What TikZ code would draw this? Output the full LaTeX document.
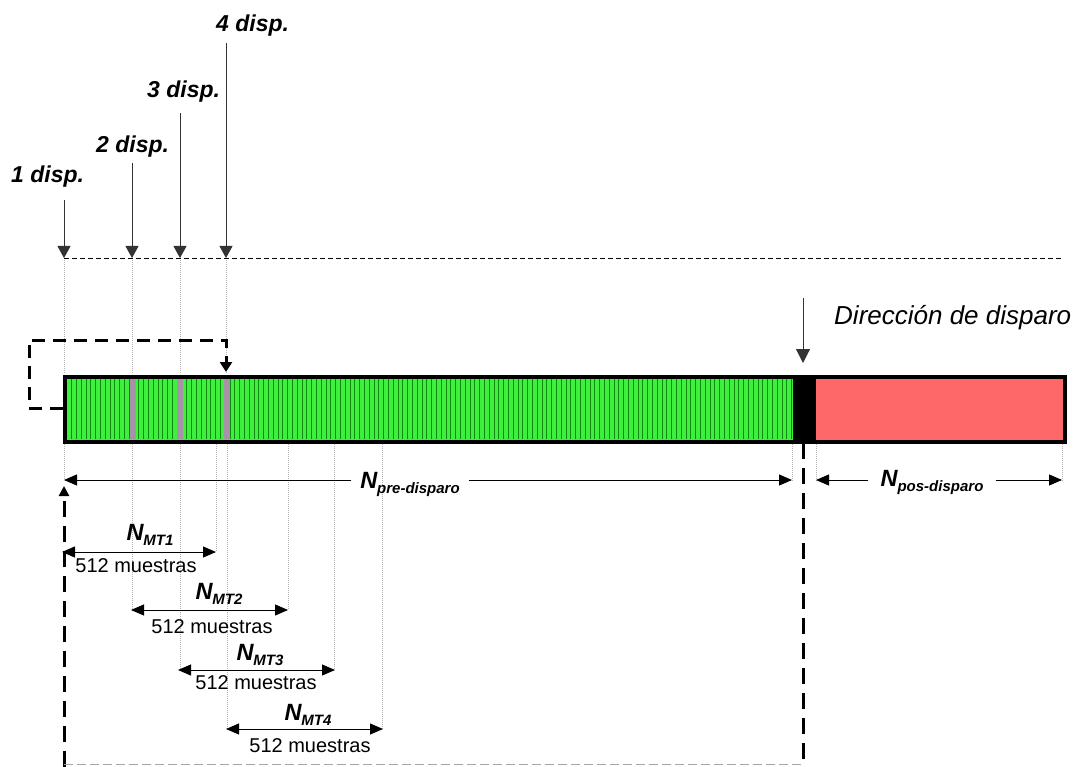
\documentclass[tikz,border=0pt]{standalone}
\usepackage{fontspec}
\setmainfont{Liberation Sans}
\usetikzlibrary{arrows.meta}
\definecolor{barGreen}{HTML}{3CF03C}
\definecolor{stripeGreen}{HTML}{108A10}
\definecolor{barRed}{HTML}{FF6868}
\definecolor{markGray}{HTML}{A892A8}
% bold italic N with a lowered subscript
\newcommand\Nlab[1]{{\fontsize{23.5}{26}\selectfont\bfseries\itshape N\raisebox{-5pt}{\fontsize{15}{17}\selectfont #1}}}

\begin{document}
\begin{tikzpicture}[x=1pt,y=-1pt,
  lbl/.style={inner sep=0pt, font=\fontsize{23}{26}\selectfont\bfseries\itshape},
  dirlbl/.style={inner sep=0pt, font=\fontsize{26}{29}\selectfont\itshape},
  nlbl/.style={inner sep=0pt},
  mlbl/.style={inner sep=0pt, font=\fontsize{20}{23}\selectfont},
  darr/.style={draw=black!80, line width=1pt, -{Triangle[length=12pt,width=13pt]}},
  dimtip/.style={line width=1pt, -{Triangle[length=13pt,width=11pt]}},
  dimboth/.style={line width=1pt, {Triangle[length=13pt,width=11pt]}-{Triangle[length=13pt,width=11pt]}},
  guide/.style={draw=gray!60, line width=0.6pt, dash pattern=on 1pt off 1pt},
  thickdash/.style={line width=3pt, dash pattern=on 16pt off 9pt},
]
\useasboundingbox (0,0) rectangle (1078,767);

% ---- trigger labels and their arrows
\node[lbl, anchor=base west] (d1) at (11,183) {1 disp.};
\node[lbl, anchor=base west] (d2) at (96,153) {2 disp.};
\node[lbl, anchor=base west] (d3) at (147,98) {3 disp.};
\node[lbl, anchor=base west] (d4) at (216,32) {4 disp.};
\coordinate (s1) at (64,200);  \coordinate (t1) at (64,258);
\coordinate (s2) at (132,163); \coordinate (t2) at (132,258);
\coordinate (s3) at (180,113); \coordinate (t3) at (180,258);
\coordinate (s4) at (226,43);  \coordinate (t4) at (226,258);
\coordinate (tEnd) at (1062,258);

% ---- guide lines
\foreach \c/\x in {t1/64,t2/132,t3/180,t4/226}
  \draw[guide] (\c) -- (\x,373);
\foreach \x/\y in {64/480,792/482,816/482,1062/482,132/610,180/670,216/552,227/729,288/610,334/670,382/729}
  \draw[guide] (\x,442) -- (\x,\y);

\draw[line width=0.8pt, dash pattern=on 5pt off 3pt] (t1) -- (tEnd);
\draw[darr] (s1) -- (t1);
\draw[darr] (s2) -- (t2);
\draw[darr] (s3) -- (t3);
\draw[darr] (s4) -- (t4);

% ---- sample buffer
\fill[barGreen] (63,375) rectangle (793,440);
\foreach \x in {66.8,71.6,...,792}
  \draw[stripeGreen, line width=1pt] (\x,376) -- (\x,439);
\foreach \x in {133,180,227}
  \fill[markGray] (\x-3,376) rectangle (\x+3,439);
\fill[black] (793,375) rectangle (816,440);
\fill[barRed] (816,375) rectangle (1063,440);
\node[draw, line width=3.5pt, minimum width=1000pt, minimum height=65pt, inner sep=0pt, anchor=north west] (bar) at (63,375) {};

% ---- trigger direction
\node[dirlbl, anchor=base west] (dir) at (834,324) {Dirección de disparo};
\coordinate (dTop) at (803,298); \coordinate (dTip) at (803,363);
\draw[darr, -{Triangle[length=14pt,width=14pt]}] (dTop) -- (dTip);

% ---- dashed return path on the left
\coordinate (bL) at (63,408); \coordinate (bA) at (29,408);
\coordinate (bB) at (29,340); \coordinate (bC) at (226,340);
\coordinate (bTip) at (226,372);
\draw[line width=3pt, dash pattern=on 13pt off 8pt, -{Triangle[length=10pt,width=12pt]}]
  (bL) -- (bA) -- (bB) -- (bC) -- (bTip);

% ---- dashed loop underneath
\coordinate (lR) at (803,443); \coordinate (lRb) at (803,767);
\coordinate (lLb) at (64,767); \coordinate (lTip) at (64,486);
\draw[thickdash] (lR) -- (lRb);
\draw[thickdash, -{Triangle[length=10pt,width=10pt]}] (lLb) -- (lTip);
\draw[gray!70, line width=1pt, dash pattern=on 9pt off 4pt] (64,764) -- (803,764);

% ---- pre-trigger span
\coordinate (preL) at (64,480); \coordinate (preR) at (792,480);
\node[nlbl, inner xsep=9pt, anchor=base] (npre) at (410,488) {\Nlab{pre-disparo}};
\draw[dimtip] (npre.west |- preL) -- (preL);
\draw[dimtip] (npre.east |- preR) -- (preR);

% ---- post-trigger span
\coordinate (posL) at (816,480); \coordinate (posR) at (1062,480);
\node[nlbl, inner xsep=12pt, anchor=base] (npos) at (932,486) {\Nlab{pos-disparo}};
\draw[dimtip] (npos.west |- posL) -- (posL);
\draw[dimtip] (npos.east |- posR) -- (posR);

% ---- analysis windows
\coordinate (w1a) at (62,552);  \coordinate (w1b) at (216,552);
\coordinate (w2a) at (131,610); \coordinate (w2b) at (288,610);
\coordinate (w3a) at (178,670); \coordinate (w3b) at (335,670);
\coordinate (w4a) at (226,729); \coordinate (w4b) at (383,729);
\draw[dimboth] (w1a) -- (w1b);
\draw[dimboth] (w2a) -- (w2b);
\draw[dimboth] (w3a) -- (w3b);
\draw[dimboth] (w4a) -- (w4b);
\node[nlbl, anchor=base] (m1) at (150,540) {\Nlab{MT1}};
\node[nlbl, anchor=base] (m2) at (219,599) {\Nlab{MT2}};
\node[nlbl, anchor=base] (m3) at (260,660) {\Nlab{MT3}};
\node[nlbl, anchor=base] (m4) at (308,720) {\Nlab{MT4}};
\node[mlbl, anchor=base] (q1) at (136,572) {512 muestras};
\node[mlbl, anchor=base] (q2) at (212,633) {512 muestras};
\node[mlbl, anchor=base] (q3) at (256,689) {512 muestras};
\node[mlbl, anchor=base] (q4) at (310,752) {512 muestras};
\end{tikzpicture}
\end{document}
